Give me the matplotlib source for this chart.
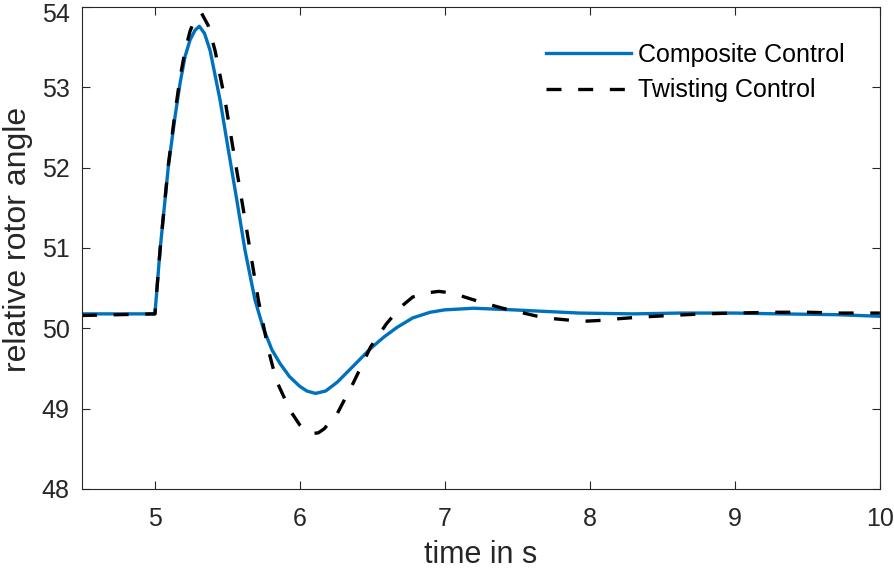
import matplotlib
matplotlib.use("Agg")
import matplotlib.pyplot as plt
from matplotlib.transforms import ScaledTranslation

# valeurs
t_comp = [4.5, 5.003, 5.038, 5.095, 5.141, 5.176, 5.21, 5.245, 5.279, 5.309, 5.345, 5.383, 5.452,
          5.509, 5.567, 5.624, 5.693, 5.75, 5.81, 5.866, 5.93, 6.0, 6.05, 6.11, 6.18, 6.26, 6.37,
          6.49, 6.58, 6.67, 6.78, 6.9, 7.0, 7.2, 7.47, 7.7, 7.93, 8.3, 8.62, 9.0, 9.31, 9.7, 10.0]
y_comp = [50.18, 50.18, 50.97, 52.01, 52.63, 53.05, 53.38, 53.59, 53.71, 53.76, 53.67, 53.46, 52.84,
          52.22, 51.6, 50.97, 50.35, 50.0, 49.73, 49.56, 49.4, 49.28, 49.22, 49.19, 49.22, 49.33, 49.53,
          49.75, 49.89, 50.01, 50.13, 50.2, 50.23, 50.25, 50.23, 50.21, 50.19, 50.18, 50.19, 50.19, 50.18, 50.17, 50.15]

t_twist = [4.5, 5.003, 5.038, 5.095, 5.141, 5.176, 5.21, 5.245, 5.279, 5.325, 5.37, 5.417, 5.486,
           5.543, 5.601, 5.659, 5.716, 5.785, 5.84, 5.934, 6.0, 6.05, 6.09, 6.13, 6.17, 6.26, 6.37, 6.49, 6.6,
           6.7, 6.78, 6.87, 6.96, 7.05, 7.19, 7.3, 7.4, 7.52, 7.64, 7.75, 7.87, 7.98, 8.09, 8.2,
           8.35, 8.55, 8.78, 9.0, 9.27, 9.5, 9.73, 10.0]
y_twist = [50.16, 50.18, 50.97, 52.03, 52.68, 53.12, 53.45, 53.7, 53.85, 53.92, 53.77, 53.46, 52.84,
           52.22, 51.6, 50.97, 50.35, 49.73, 49.35, 48.98, 48.8, 48.72, 48.69, 48.7, 48.75, 48.94, 49.32, 49.77, 50.06,
           50.27, 50.39, 50.44, 50.46, 50.44, 50.36, 50.3, 50.25, 50.2, 50.15, 50.12, 50.1, 50.09, 50.1, 50.12,
           50.14, 50.16, 50.18, 50.19, 50.2, 50.2, 50.19, 50.19]

plt.rcParams['font.family'] = ['Liberation Sans', 'DejaVu Sans']
txt = '#262626'

fig = plt.figure(figsize=(8.94, 5.69), dpi=100)
ax = fig.add_axes([0.0917, 0.1406, 0.8925, 0.8471])

ax.plot(t_comp, y_comp, color='#0072BD', lw=2.4, solid_joinstyle='round', label='Composite Control')
ax.plot(t_twist, y_twist, color='black', lw=2.4, ls=(0, (4.5, 5)), dash_joinstyle='round',
        label='Twisting Control')

ax.set_xlim(4.5, 10)
ax.set_ylim(48, 54)
ax.set_xticks([5, 6, 7, 8, 9, 10])
ax.set_yticks([48, 49, 50, 51, 52, 53, 54])
ax.tick_params(direction='in', length=6, width=0.8, top=True, right=True, labelsize=18, colors=txt)
ax.tick_params(axis='x', pad=13)
ax.tick_params(axis='y', pad=9)
for s in ax.spines.values():
    s.set_linewidth(0.8)
    s.set_color(txt)

# le "54" du haut est un peu descendu pour ne pas sortir de l'image
top_lab = ax.get_yticklabels()[-1]
top_lab.set_transform(top_lab.get_transform() + ScaledTranslation(0, -0.06, fig.dpi_scale_trans))

ax.set_xlabel('time in s', fontsize=22, color=txt)
ax.xaxis.set_label_coords(0.5, -0.106)
ax.set_ylabel('relative rotor angle', fontsize=23, color=txt)
ax.yaxis.set_label_coords(-0.0614, 0.517)

leg = ax.legend(loc='upper right', bbox_to_anchor=(0.956, 0.925), frameon=False, fontsize=18,
                handlelength=3.4, handletextpad=0.3, labelspacing=0.45, borderpad=0, borderaxespad=0)
for t in leg.get_texts():
    t.set_color('black')

fig.savefig('out.png', dpi=100)
